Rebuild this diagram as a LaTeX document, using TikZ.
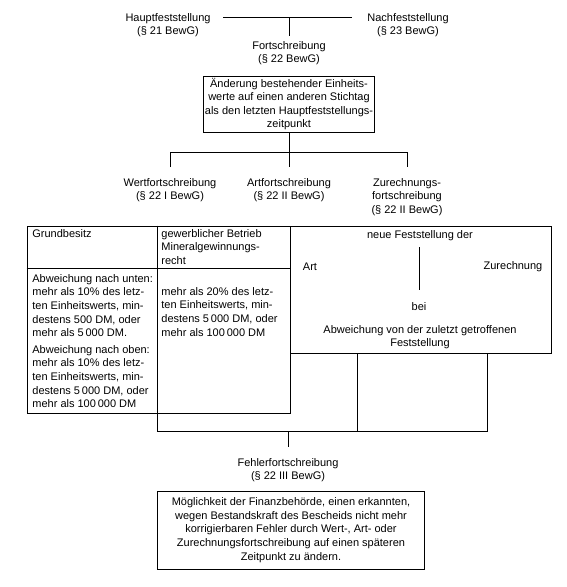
\documentclass[tikz,border=0pt]{standalone}
\usepackage{fontspec}
\setmainfont{Liberation Sans}

\begin{document}
\begin{tikzpicture}[x=1pt, y=-1pt, line width=0.8pt,
    every node/.style={font=\fontsize{11}{13.6}\selectfont, inner sep=0pt},
    title/.style={align=center},
    frame/.style={draw, align=center},
    cell/.style={anchor=north west, align=left}]
    \useasboundingbox (0,0) rectangle (566,587);

    % Feststellungsarten
    \node[title] (haupt) at (168,25) {Hauptfeststellung\\(§ 21 BewG)};
    \node[title] (nach) at (408,25) {Nachfeststellung\\(§ 23 BewG)};
    \node[title] (fort) at (289,53) {Fortschreibung\\(§ 22 BewG)};
    \coordinate (hl) at (223,17);
    \coordinate (nl) at (352,17);
    \coordinate (fo) at (289,17);
    \coordinate (fu) at (289,36);
    \draw (hl) -- (nl);
    \draw (fo) -- (fu);

    % Definition
    \node[frame, minimum width=171pt, minimum height=56pt] (aend) at (289,104)
        {Änderung bestehender Einheits-\\werte auf einen anderen Stichtag\\als den letzten Hauptfeststellungs-\\zeitpunkt};

    % Arten der Fortschreibung
    \coordinate (ja) at (289,152);
    \coordinate (jw) at (170,152);
    \coordinate (jz) at (407,152);
    \coordinate (wt) at (170,167);
    \coordinate (at) at (289,167);
    \coordinate (zt) at (407,167);
    \draw (aend.south) -- (ja);
    \draw (wt) -- (jw) -- (jz) -- (zt);
    \draw (ja) -- (at);
    \node[title] (wert) at (170,190) {Wertfortschreibung\\(§ 22 I BewG)};
    \node[title] (art) at (289,190) {Artfortschreibung\\(§ 22 II BewG)};
    \node[title] (zur) at (407,197) {Zurechnungs-\\fortschreibung\\(§ 22 II BewG)};

    % Tabelle Wertfortschreibung
    \node[draw, minimum width=263pt, minimum height=187pt] (tab) at (158.5,319.5) {};
    \coordinate (jl) at (157,431);
    \draw (tab.north -| jl) -- (jl);
    \draw (tab.west |- 0,268) -- (tab.east |- 0,268);
    \node[cell] (grund) at (32,229) {Grundbesitz};
    \node[cell] (gewerb) at (161,229) {gewerblicher Betrieb\\Mineralgewinnungs-\\recht};
    \node[cell] (unten) at (32,274) {Abweichung nach unten:\\mehr als 10\% des letz-\\ten Einheitswerts, min-\\destens 500 DM, oder\\mehr als 5\,000 DM.};
    \node[cell] (oben) at (32,345) {Abweichung nach oben:\\mehr als 10\% des letz-\\ten Einheitswerts, min-\\destens 5\,000 DM, oder\\mehr als 100\,000 DM};
    \node[cell] (betrieb) at (161,287) {mehr als 20\% des letz-\\ten Einheitswerts, min-\\destens 5\,000 DM, oder\\mehr als 100\,000 DM};

    % Art- und Zurechnungsfortschreibung
    \node[draw, minimum width=261pt, minimum height=127pt] (fest) at (420.5,289.5) {};
    \node (neu) at (420,236) {neue Feststellung der};
    \coordinate (so) at (419,247);
    \coordinate (su) at (419,290);
    \draw (so) -- (su);
    \node (artk) at (310,267) {Art};
    \node (zurk) at (513,267) {Zurechnung};
    \node (bei) at (419,307) {bei};
    \node[title] (abw) at (420,337) {Abweichung von der zuletzt getroffenen\\Feststellung};

    % Fehlerfortschreibung
    \coordinate (jm) at (357,431);
    \coordinate (jr) at (487,431);
    \coordinate (jc) at (288,431);
    \coordinate (ft) at (288,447);
    \draw (jl) -- (jr) -- (fest.south -| jr);
    \draw (fest.south -| jm) -- (jm);
    \draw (jc) -- (ft);
    \node[title] (fehler) at (288,470) {Fehlerfortschreibung\\(§ 22 III BewG)};
    \node[frame, minimum width=267pt, minimum height=78pt] (moegl) at (291,530)
        {Möglichkeit der Finanzbehörde, einen erkannten,\\wegen Bestandskraft des Bescheids nicht mehr\\korrigierbaren Fehler durch Wert-, Art- oder\\Zurechnungsfortschreibung auf einen späteren\\Zeitpunkt zu ändern.};
\end{tikzpicture}
\end{document}
